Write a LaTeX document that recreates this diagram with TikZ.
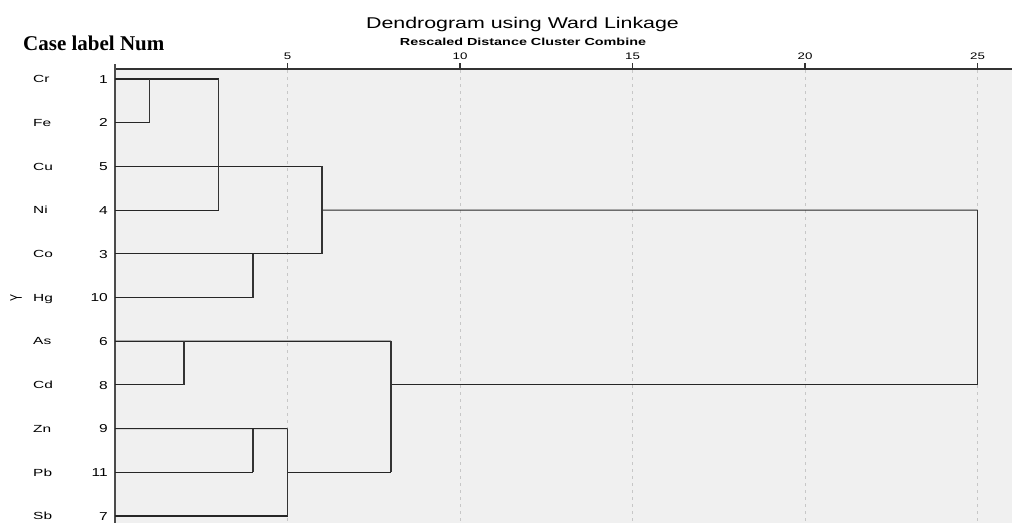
\documentclass[tikz,border=0pt]{standalone}
\usepackage{fontspec}
\setmainfont{Liberation Serif}
\setsansfont{Liberation Sans}
\newcommand{\stretchtxt}[2]{\scalebox{#1}[1]{#2}}
\begin{document}
\begin{tikzpicture}[x=1pt,y=-1pt,
  hline/.style={draw=black!85,line width=1.1pt},
  vline/.style={draw=black!80,line width=1.8pt},
  grid/.style={draw=black!22,line width=0.9pt,dash pattern=on 3pt off 4pt},
  tick/.style={draw=black!80,line width=1.4pt},
  rowname/.style={anchor=base west,inner sep=0pt,font=\sffamily\fontsize{10.3}{12}\selectfont},
  rownum/.style={anchor=base east,inner sep=0pt,font=\sffamily\fontsize{11.5}{13}\selectfont},
  ticklab/.style={anchor=base,inner sep=0pt,font=\sffamily\fontsize{9.5}{11}\selectfont}]
\useasboundingbox (0,0) rectangle (1012,523);
\fill[white] (0,0) rectangle (1012,523);
\fill[black!6] (115,69) rectangle (1012,523);
% gridlines
\foreach \gx in {287.5,460,632.5,805,977.5} \draw[grid] (\gx,70) -- (\gx,523);
% titles
\node[anchor=base,inner sep=0pt,font=\sffamily\fontsize{15.6}{18}\selectfont] (title) at (522.5,28) {\stretchtxt{1.37}{Dendrogram using Ward Linkage}};
\node[anchor=base,inner sep=0pt,font=\sffamily\bfseries\fontsize{10.2}{12}\selectfont] (sub) at (523,45.5) {\stretchtxt{1.41}{Rescaled Distance Cluster Combine}};
\node[anchor=base west,inner sep=0pt,font=\bfseries\fontsize{21}{24}\selectfont] (case) at (23,50) {Case label Num};
% tick labels
\foreach \gx/\t in {287.5/5,460/10,632.5/15,805/20,977.5/25}{
  \node[ticklab] (t\t) at (\gx,59.5) {\stretchtxt{1.4}{\t}};
  \draw[tick] (\gx,63) -- (\gx,69);
}
% axes
\draw[draw=black!80,line width=1.2pt] (115,69) -- (1012,69);
\draw[draw=black!70,line width=2.4pt] (115,64) -- (115,523);
% Y label
\node[rotate=90,inner sep=0pt,font=\sffamily\fontsize{10.5}{12}\selectfont] (ylab) at (16,297.5) {\scalebox{1}[1.6]{Y}};
% rows
\foreach \i/\nm/\num in {0/Cr/1,1/Fe/2,2/Cu/5,3/Ni/4,4/Co/3,5/Hg/10,6/As/6,7/Cd/8,8/Zn/9,9/Pb/11,10/Sb/7}{
  \pgfmathsetmacro{\yy}{79+43.7*\i}
  \node[rowname] (n\num) at (33,\yy+3.7) {\stretchtxt{1.5}{\nm}};
  \node[rownum] (k\num) at (108,\yy+4.2) {\stretchtxt{1.35}{\num}};
  \coordinate (L\num) at (115,\yy);
}
% merge coordinates
\coordinate (a) at (149.5,79);   % Cr-Fe
\coordinate (b) at (218.5,79);   % +Ni
\coordinate (c) at (253,253.8);  % Co-Hg
\coordinate (d) at (322,166.4);  % Cu, Co
\coordinate (e) at (184,341.2);  % As-Cd
\coordinate (f) at (253,428.6);  % Zn-Pb
\coordinate (g) at (287.5,428.6);% +Sb
\coordinate (h) at (391,341.2);  % As..Sb
\coordinate (r) at (977.5,210.1);% root
% horizontals
\draw[hline] (L1) -- (b);
\draw[hline] (L2) -- (L2 -| a);
\draw[hline] (L4) -- (L4 -| b);
\draw[hline] (L5) -- (d);
\draw[hline] (L3) -- (L3 -| d);
\draw[hline] (L10) -- (L10 -| c);
\draw[hline] (L6) -- (h);
\draw[hline] (L8) -- (L8 -| e);
\draw[hline] (L9) -- (g);
\draw[hline] (L11) -- (L11 -| f);
\draw[hline] (L7) -- (L7 -| g);
\draw[hline] (L4 -| d) -- (r);
\draw[hline] (L11 -| g) -- (L11 -| h);
\draw[hline] (L8 -| h) -- (L8 -| r);
% verticals
\draw[vline] (a) -- (L2 -| a);
\draw[vline] (b) -- (L4 -| b);
\draw[vline] (c) -- (L10 -| c);
\draw[vline] (d) -- (L3 -| d);
\draw[vline] (e) -- (L8 -| e);
\draw[vline] (f) -- (L11 -| f);
\draw[vline] (g) -- (L7 -| g);
\draw[vline] (h) -- (L11 -| h);
\draw[vline] (r) -- (L8 -| r);
\end{tikzpicture}
\end{document}
